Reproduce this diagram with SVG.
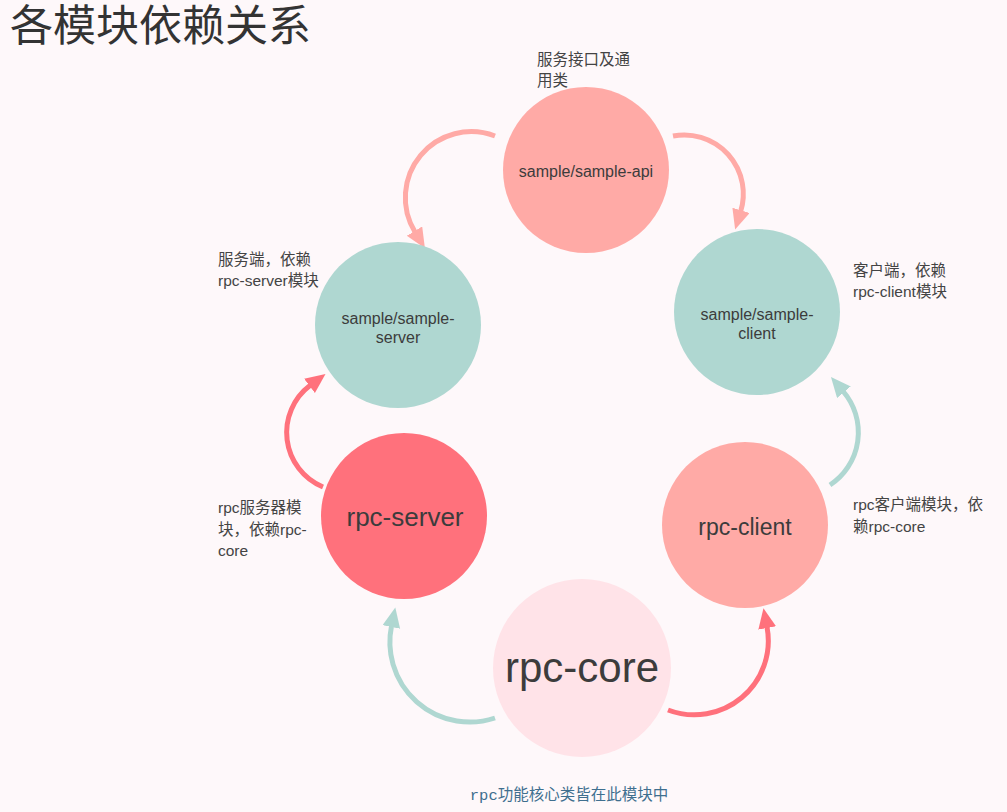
<svg xmlns="http://www.w3.org/2000/svg" width="1007" height="812" viewBox="0 0 1007 812">
  <style>
    .title { font-family: "Liberation Serif", "Noto Sans CJK SC", serif; font-size: 43px; fill: #333333; }
    .lbl { font-family: "Liberation Sans", "Noto Sans CJK SC", sans-serif; fill: #3c3c3c; text-anchor: middle; }
    .note { font-family: "Liberation Sans", "Noto Sans CJK SC", sans-serif; font-size: 15.5px; fill: #444444; }
    .foot { font-family: "Liberation Mono", "Noto Sans CJK SC", monospace; font-size: 15.5px; fill: #3f6f8f; text-anchor: middle; }
    .arc { fill: none; stroke-width: 5; }
  </style>
  <defs>
    <marker id="ah-pink" markerUnits="userSpaceOnUse" markerWidth="22" markerHeight="20" refX="1" refY="9" orient="auto">
      <path d="M0,0 L20,9 L0,18 z" fill="#ffaaa6"/>
    </marker>
    <marker id="ah-red" markerUnits="userSpaceOnUse" markerWidth="22" markerHeight="20" refX="1" refY="9" orient="auto">
      <path d="M0,0 L20,9 L0,18 z" fill="#ff717c"/>
    </marker>
    <marker id="ah-teal" markerUnits="userSpaceOnUse" markerWidth="22" markerHeight="20" refX="1" refY="9" orient="auto">
      <path d="M0,0 L20,9 L0,18 z" fill="#afd7d1"/>
    </marker>
  </defs>
  <rect width="1007" height="812" fill="#fef8fa"/>
  <text class="title" x="10" y="41">各模块依赖关系</text>

  <g id="connectors">
    <path class="arc" stroke="#ffaaa6" d="M495,136 A66,66 0 0,0 415,232" marker-end="url(#ah-pink)"/>
    <path class="arc" stroke="#ffaaa6" d="M673,136 A59,59 0 0,1 740.7,211.3" marker-end="url(#ah-pink)"/>
    <path class="arc" stroke="#ff717c" d="M323,487 A59,59 0 0,1 310.3,385.3" marker-end="url(#ah-red)"/>
    <path class="arc" stroke="#afd7d1" d="M830,485 A63,63 0 0,0 843.3,391.5" marker-end="url(#ah-teal)"/>
    <path class="arc" stroke="#afd7d1" d="M495,718 A80,80 0 0,1 391.5,626" marker-end="url(#ah-teal)"/>
    <path class="arc" stroke="#ff717c" d="M668,710 A74,74 0 0,0 767,627" marker-end="url(#ah-red)"/>
  </g>

  <g id="sample-api">
    <circle cx="586" cy="170" r="83" fill="#ffaaa6"/>
    <text class="lbl" x="586" y="177" font-size="16">sample/sample-api</text>
    <text class="note" x="537" y="65">服务接口及通</text>
    <text class="note" x="537" y="86">用类</text>
  </g>

  <g id="sample-server">
    <circle cx="398" cy="325" r="83" fill="#afd7d1"/>
    <text class="lbl" x="398" y="324" font-size="16">sample/sample-</text>
    <text class="lbl" x="398" y="343" font-size="16">server</text>
    <text class="note" x="218" y="265">服务端，依赖</text>
    <text class="note" x="218" y="286">rpc-server模块</text>
  </g>

  <g id="sample-client">
    <circle cx="757" cy="312" r="83" fill="#afd7d1"/>
    <text class="lbl" x="757" y="320" font-size="16">sample/sample-</text>
    <text class="lbl" x="757" y="339" font-size="16">client</text>
    <text class="note" x="853" y="276">客户端，依赖</text>
    <text class="note" x="853" y="297">rpc-client模块</text>
  </g>

  <g id="rpc-server">
    <circle cx="404" cy="516" r="83" fill="#ff717c"/>
    <text class="lbl" x="405" y="526" font-size="26">rpc-server</text>
    <text class="note" x="218" y="513">rpc服务器模</text>
    <text class="note" x="218" y="535">块，依赖rpc-</text>
    <text class="note" x="218" y="556">core</text>
  </g>

  <g id="rpc-client">
    <circle cx="745" cy="525" r="83" fill="#ffaaa6"/>
    <text class="lbl" x="745" y="535" font-size="23">rpc-client</text>
    <text class="note" x="853" y="510">rpc客户端模块，依</text>
    <text class="note" x="853" y="532">赖rpc-core</text>
  </g>

  <g id="rpc-core">
    <circle cx="582" cy="668" r="89" fill="#ffe3e8"/>
    <text class="lbl" x="582" y="682" font-size="42">rpc-core</text>
    <text class="foot" x="569" y="800">rpc功能核心类皆在此模块中</text>
  </g>
</svg>
